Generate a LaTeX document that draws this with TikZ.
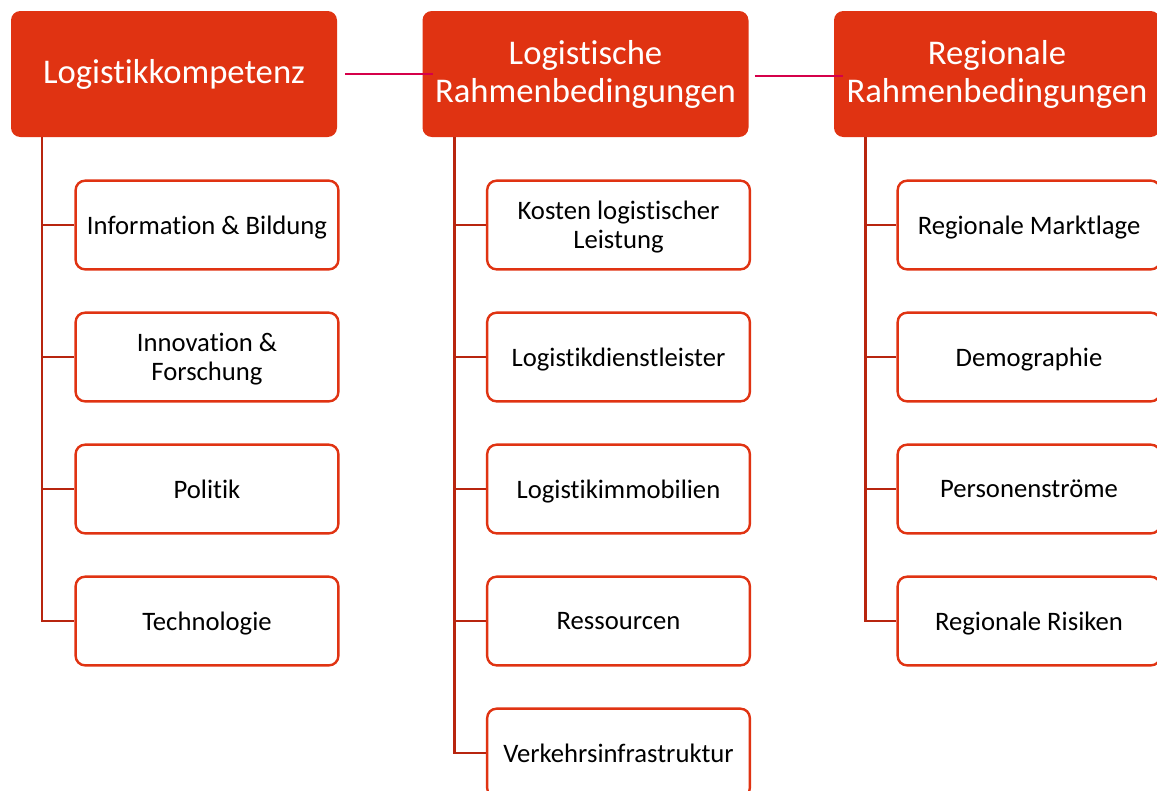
\documentclass[tikz,border=0pt]{standalone}
\usepackage{fontspec}
\setmainfont[Ligatures=NoCommon,RawFeature=-liga]{Carlito}
\definecolor{hdr}{HTML}{E03312}
\definecolor{trunk}{HTML}{B8250F}
\definecolor{link}{HTML}{D5004A}
\begin{document}
\begin{tikzpicture}[x=0.75pt,y=-0.75pt,
 header/.style={fill=hdr, rounded corners=7pt, minimum width=244.5pt, minimum height=94.5pt, text=white, font=\fontsize{26}{28.5}\selectfont, align=center, inner sep=0pt},
 child/.style={draw=hdr, line width=1.8pt, fill=white, rounded corners=7pt, minimum width=197pt, minimum height=66.5pt, font=\fontsize{20}{22}\selectfont, align=center, inner sep=0pt, text depth=0pt},
 trunkline/.style={draw=trunk, line width=2pt},
 linkline/.style={draw=link, line width=1pt}]
\useasboundingbox (0,0) rectangle (1157,790);
\clip (0,0) rectangle (1157,790);
% headers
\node[header] (h1) at (174,74) {Logistikkompetenz};
\node[header] (h2) at (585.5,74) {Logistische\\Rahmenbedingungen};
\node[header] (h3) at (997,74) {Regionale\\Rahmenbedingungen};
% children column 1
\node[child] (a1) at (207,225) {Information \& Bildung};
\node[child] (a2) at (207,357) {Innovation \&\\Forschung};
\node[child] (a3) at (207,489) {Politik};
\node[child] (a4) at (207,621) {Technologie};
% column 2
\node[child] (b1) at (618.5,225) {Kosten logistischer\\Leistung};
\node[child] (b2) at (618.5,357) {Logistikdienstleister};
\node[child] (b3) at (618.5,489) {Logistikimmobilien};
\node[child] (b4) at (618.5,621) {Ressourcen};
\node[child] (b5) at (618.5,753) {Verkehrsinfrastruktur};
% column 3
\node[child] (c1) at (1029,225) {Regionale Marktlage};
\node[child] (c2) at (1029,357) {Demographie};
\node[child] (c3) at (1029,489) {Personenströme};
\node[child] (c4) at (1029,621) {Regionale Risiken};
% trunks
\coordinate (t1) at ([xshift=23.5pt]h1.south west);
\coordinate (t2) at ([xshift=24pt]h2.south west);
\coordinate (t3) at ([xshift=24pt]h3.south west);
\draw[trunkline] (t1) |- (a4.west);
\foreach \n in {a1,a2,a3} \draw[trunkline] (t1 |- \n.west) -- (\n.west);
\draw[trunkline] (t2) |- (b5.west);
\foreach \n in {b1,b2,b3,b4} \draw[trunkline] (t2 |- \n.west) -- (\n.west);
\draw[trunkline] (t3) |- (c4.west);
\foreach \n in {c1,c2,c3} \draw[trunkline] (t3 |- \n.west) -- (\n.west);
% links between headers
\draw[linkline] ([xshift=6pt]h1.east) -- ([xshift=8.25pt]h2.west);
\draw[linkline] ([xshift=4.5pt,yshift=-1.5pt]h2.east) -- ([xshift=7pt,yshift=-1.5pt]h3.west);
\end{tikzpicture}
\end{document}
